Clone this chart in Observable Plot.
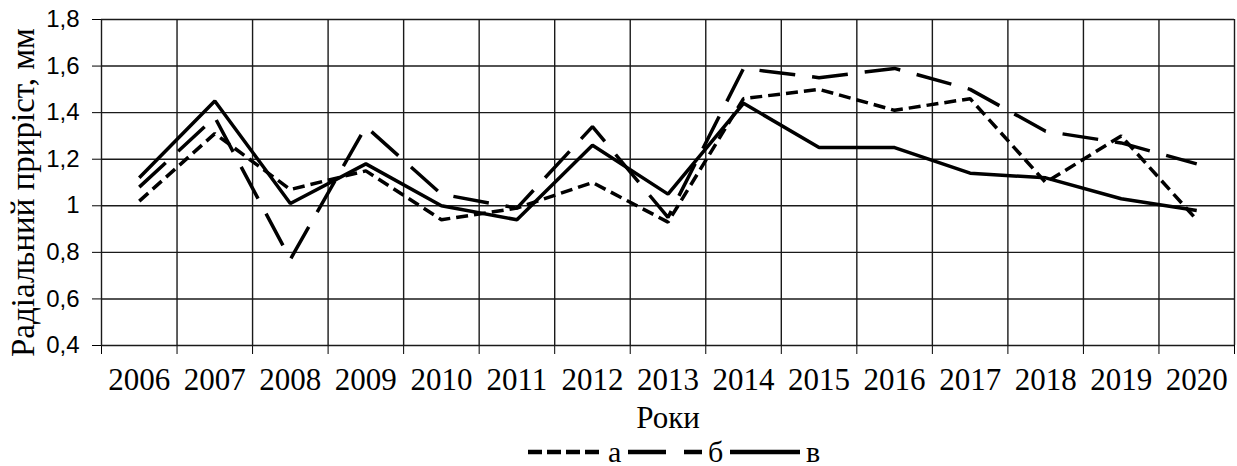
<!DOCTYPE html>
<html>
<head>
<meta charset="utf-8">
<script src="https://cdn.jsdelivr.net/npm/d3@7"></script>
<script src="https://cdn.jsdelivr.net/npm/@observablehq/plot@0.6"></script>
<style>
  html, body { margin: 0; padding: 0; background: #fff; }
  #chart { width: 1237px; }
  #legend { height: 28px; position: relative; font-family: "Liberation Serif", "Times New Roman", serif; font-size: 30px; }
  #legend .item { position: absolute; top: 0; height: 28px; display: flex; align-items: center; }
  #legend svg { display: block; }
</style>
</head>
<body>
<div id="chart"></div>
<div id="legend"></div>
<script>
const years = [2006, 2007, 2008, 2009, 2010, 2011, 2012, 2013, 2014, 2015, 2016, 2017, 2018, 2019, 2020];
const seriesA = [1.02, 1.31, 1.07, 1.15, 0.94, 0.99, 1.10, 0.93, 1.46, 1.50, 1.41, 1.46, 1.10, 1.30, 0.94];
const seriesB = [1.08, 1.38, 0.77, 1.34, 1.05, 0.99, 1.34, 0.95, 1.59, 1.55, 1.59, 1.50, 1.32, 1.27, 1.18];
const seriesV = [1.12, 1.45, 1.01, 1.18, 1.00, 0.94, 1.26, 1.05, 1.44, 1.25, 1.25, 1.14, 1.12, 1.03, 0.98];
const seriesNames = ["а", "б", "в"];
const yTicks = [0.4, 0.6, 0.8, 1, 1.2, 1.4, 1.6, 1.8];
const yTitle = "Радіальний приріст, мм";
const xTitle = "Роки";

const dashes = {"а": "12,6", "б": "36,17", "в": null};

const rows = [];
[seriesA, seriesB, seriesV].forEach((s, i) => {
  s.forEach((v, j) => rows.push({series: seriesNames[i], year: years[j], value: v}));
});
const bounds = [years[0] - 0.5, ...years.map(y => y + 0.5)];

const lineMarks = seriesNames.map(name => Plot.line(rows.filter(r => r.series === name), {
  x: "year", y: "value", stroke: "#000", strokeWidth: 3.5,
  strokeDasharray: dashes[name] || undefined, strokeLinejoin: "miter", strokeLinecap: "butt"
}));

const chart = Plot.plot({
  width: 1237,
  height: 438,
  marginTop: 19,
  marginBottom: 93,
  marginLeft: 101,
  marginRight: 3,
  style: {fontFamily: "'Liberation Sans', Arial, sans-serif", fontSize: "24px", color: "#000", background: "#fff"},
  x: {domain: [bounds[0], bounds[bounds.length - 1]], ticks: bounds, tickSize: 9, tickFormat: () => "", label: null},
  y: {domain: [0.4, 1.8], ticks: yTicks, tickSize: 9, tickPadding: 13, tickFormat: d => String(d).replace(".", ","), label: null},
  marks: [
    Plot.ruleY(yTicks, {stroke: "#1a1a1a", strokeWidth: 1.4}),
    Plot.ruleX(bounds, {y1: 0.4, y2: 1.8, stroke: "#1a1a1a", strokeWidth: 1.4}),
    ...lineMarks,
    Plot.text(years, {x: d => d, frameAnchor: "bottom", dy: 44, text: d => String(d),
      fontFamily: "'Liberation Serif', 'Times New Roman', serif", fontSize: 31, fill: "#000"}),
    Plot.text([xTitle], {frameAnchor: "bottom", dy: 82, text: d => d,
      fontFamily: "'Liberation Serif', 'Times New Roman', serif", fontSize: 31, fill: "#000"}),
    Plot.text([yTitle], {frameAnchor: "left", textAnchor: "middle", dx: -78, dy: 10, rotate: -90, text: d => d,
      fontFamily: "'Liberation Serif', 'Times New Roman', serif", fontSize: 33, fill: "#000"})
  ]
});
document.getElementById("chart").appendChild(chart);

// legend
const legend = document.getElementById("legend");
const legendItems = [
  {name: "а", left: 528, w: 74},
  {name: "б", left: 628, w: 74},
  {name: "в", left: 730, w: 70}
];
legendItems.forEach(it => {
  const div = document.createElement("div");
  div.className = "item";
  div.style.left = it.left + "px";
  const dash = it.name === "а" ? "14,5" : (it.name === "б" ? "38,18" : null);
  div.innerHTML = `<svg width="${it.w}" height="28"><line x1="0" x2="${it.w}" y1="14" y2="14" stroke="#000" stroke-width="4.5" ${dash ? `stroke-dasharray="${dash}"` : ""}/></svg><span style="margin-left:6px;line-height:28px">${it.name}</span>`;
  legend.appendChild(div);
});
</script>
</body>
</html>
